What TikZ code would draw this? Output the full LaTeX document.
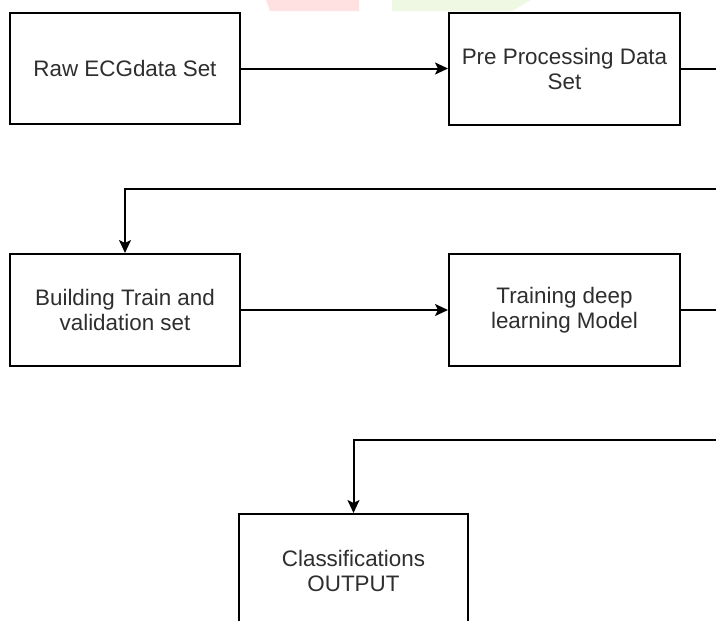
\documentclass[tikz,border=0pt]{standalone}
\usepackage{fontspec}
\setmainfont{Liberation Sans}
\usetikzlibrary{arrows.meta}
\definecolor{txt}{HTML}{2E2E2E}
\definecolor{wmpink}{HTML}{FFE1E1}
\definecolor{wmgreen}{HTML}{EEF8E2}
\tikzset{
  box/.style={draw=black, line width=2pt, fill=white, rectangle, align=center,
    text=txt, font=\fontsize{22.4}{25}\selectfont, inner sep=0pt},
  conn/.style={draw=black, line width=2pt},
  arr/.style={conn, -{Stealth[length=13pt,width=12pt,inset=3pt]}}
}
\begin{document}
\begin{tikzpicture}[x=1pt,y=-1pt]
\useasboundingbox (0,0) rectangle (716,621);
\clip (0,0) rectangle (716,621);
\fill[white] (0,0) rectangle (716,621);
% faint watermark shapes at the top edge
\fill[wmpink] (266,0) -- (359,0) -- (359,11) -- (270,11) -- cycle;
\fill[wmgreen] (392,0) -- (531,0) -- (512,11) -- (392,11) -- cycle;

\node[box, minimum width=230pt, minimum height=111pt] (raw) at (125,68.5) {Raw ECGdata Set};
\node[box, minimum width=231pt, minimum height=112pt] (pre) at (564.5,69) {Pre Processing Data\\Set};
\node[box, minimum width=230pt, minimum height=112pt] (build) at (125,310) {Building Train and\\validation set};
\node[box, minimum width=231pt, minimum height=112pt] (train) at (564.5,310) {Training deep\\learning Model};
\node[box, minimum width=229pt, minimum height=114pt] (class) at (353.5,571) {Classifications\\OUTPUT};

\coordinate (r1) at (728,69);
\coordinate (r2) at (728,189);
\coordinate (r3) at (728,310);
\coordinate (r4) at (728,440);

\draw[arr] (raw.east) -- (raw.east -| pre.west);
\draw[arr] (pre.east) -- (r1) -- (r2) -| (build.north);
\draw[arr] (build.east) -- (build.east -| train.west);
\draw[arr] (train.east) -- (r3) -- (r4) -| (class.north);
\end{tikzpicture}
\end{document}
